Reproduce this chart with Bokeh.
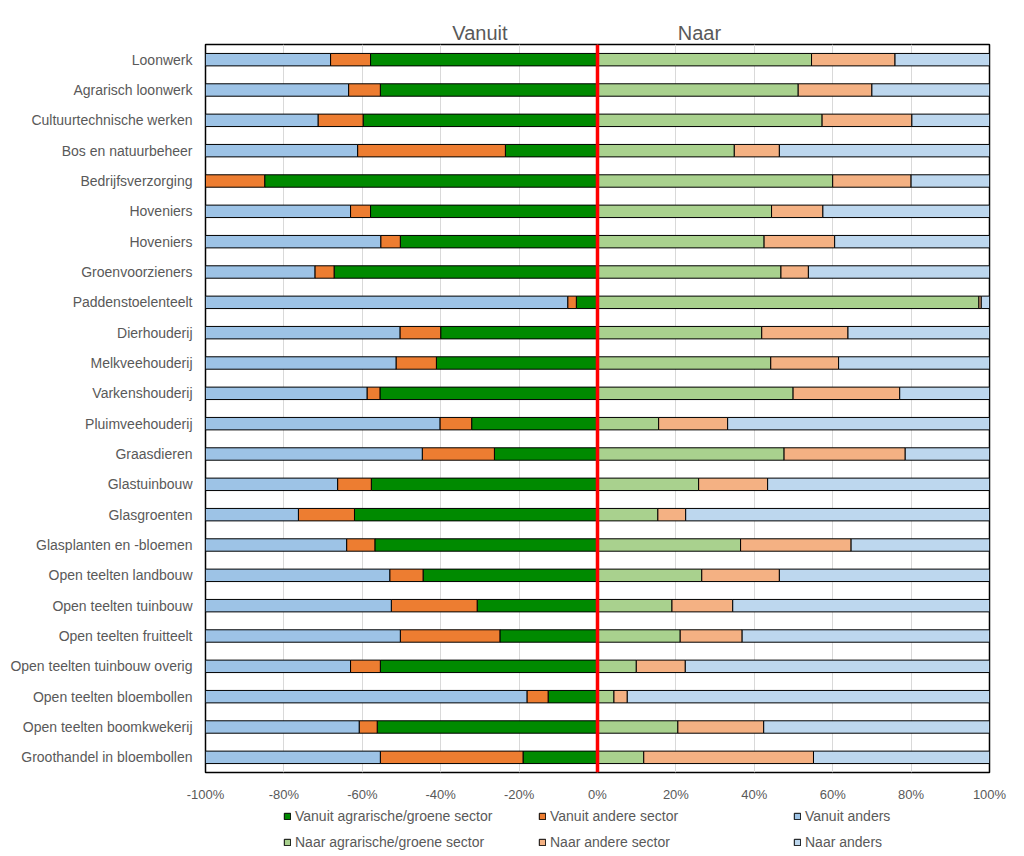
from bokeh.plotting import figure
from bokeh.models import Range1d, FixedTicker, Span, Legend, LegendItem, LinearAxis
from bokeh.layouts import column
from bokeh.embed import file_html
from bokeh.resources import INLINE
import numpy as np

categories = [
    "Loonwerk", "Agrarisch loonwerk", "Cultuurtechnische werken", "Bos en natuurbeheer",
    "Bedrijfsverzorging", "Hoveniers", "Hoveniers", "Groenvoorzieners",
    "Paddenstoelenteelt", "Dierhouderij", "Melkveehouderij", "Varkenshouderij",
    "Pluimveehouderij", "Graasdieren", "Glastuinbouw", "Glasgroenten",
    "Glasplanten en -bloemen", "Open teelten landbouw", "Open teelten tuinbouw",
    "Open teelten fruitteelt", "Open teelten tuinbouw overig", "Open teelten bloembollen",
    "Open teelten boomkwekerij", "Groothandel in bloembollen",
]

vanuit_agrarisch = [57.9, 55.4, 59.8, 23.5, 84.9, 57.9, 50.3, 67.2, 5.4, 40.0, 41.1, 55.5,
                    32.1, 26.3, 57.7, 62.0, 56.8, 44.5, 30.7, 24.9, 55.4, 12.6, 56.2, 19.0]
vanuit_andere = [10.2, 8.1, 11.5, 37.7, 15.1, 5.1, 5.0, 4.9, 2.2, 10.4, 10.3, 3.3,
                 8.1, 18.4, 8.6, 14.3, 7.2, 8.5, 21.9, 25.4, 7.6, 5.4, 4.6, 36.4]
vanuit_anders = [31.9, 36.5, 28.7, 38.8, 0.0, 37.0, 44.7, 27.9, 92.4, 49.6, 48.6, 41.2,
                 59.8, 55.3, 33.7, 23.7, 36.0, 47.0, 47.4, 49.7, 37.0, 82.0, 39.2, 44.6]

naar_agrarisch = [54.6, 51.2, 57.3, 34.9, 60.0, 44.4, 42.5, 46.8, 97.3, 41.9, 44.2, 49.9,
                  15.6, 47.6, 25.8, 15.4, 36.5, 26.6, 19.0, 21.1, 9.9, 4.2, 20.5, 11.8]
naar_andere = [21.3, 18.8, 22.9, 11.5, 20.0, 13.1, 18.0, 7.0, 0.6, 22.0, 17.3, 27.2,
               17.6, 30.9, 17.6, 7.1, 28.2, 19.8, 15.5, 15.8, 12.5, 3.4, 21.9, 43.3]
naar_anders = [24.1, 30.0, 19.8, 53.6, 20.0, 42.5, 39.5, 46.2, 2.1, 36.1, 38.5, 22.9,
               66.8, 21.5, 56.6, 77.5, 35.3, 53.6, 65.5, 63.1, 77.6, 92.4, 57.6, 44.9]

x_ticks = [-100, -80, -60, -40, -20, 0, 20, 40, 60, 80, 100]
x_tick_labels = ["-100%", "-80%", "-60%", "-40%", "-20%", "0%", "20%", "40%", "60%", "80%", "100%"]

half_titles = ["Vanuit", "Naar"]
half_title_pos = [-30, 26]

series_names = [
    "Vanuit agrarische/groene sector", "Vanuit andere sector", "Vanuit anders",
    "Naar agrarische/groene sector", "Naar andere sector", "Naar anders",
]
colors = ["#008A00", "#ED7D31", "#9DC3E6", "#A9D18E", "#F4B183", "#BDD7EE"]

FONT = "Liberation Sans"
GRAY = "#595959"

p = figure(width=1024, height=804, output_backend="svg", toolbar_location=None,
           x_range=Range1d(-100, 100), y_range=Range1d(len(categories) - 0.5, -0.5),
           min_border_left=205, min_border_right=35, min_border_top=44, min_border_bottom=30)

y = np.arange(len(categories))
va = np.array(vanuit_agrarisch); vo = np.array(vanuit_andere); vb = np.array(vanuit_anders)
na = np.array(naar_agrarisch); no = np.array(naar_andere); nb = np.array(naar_anders)

bar_h = 0.41
segments = [
    (-va, np.zeros_like(va)),
    (-(va + vo), -va),
    (-(va + vo + vb), -(va + vo)),
    (np.zeros_like(na), na),
    (na, na + no),
    (na + no, na + no + nb),
]
for (l, r), c in zip(segments, colors):
    p.hbar(y=y, left=l, right=r, height=bar_h, fill_color=c,
           line_color="black", line_width=1)

p.add_layout(Span(location=0, dimension="height", line_color="#FF0000", line_width=3.5))

# bottom axis
xax = p.below[0]
xax.ticker = FixedTicker(ticks=x_ticks)
xax.major_label_overrides = {t: s for t, s in zip(x_ticks, x_tick_labels)}
xax.axis_line_color = None
xax.major_tick_line_color = None
xax.minor_tick_line_color = None
xax.major_tick_out = 0
xax.major_tick_in = 0
xax.major_label_standoff = 14
xax.major_label_text_font = FONT
xax.major_label_text_font_size = "13px"
xax.major_label_text_color = GRAY

# left axis
yax = p.left[0]
yax.ticker = FixedTicker(ticks=list(range(len(categories))))
yax.major_label_overrides = {i: c for i, c in enumerate(categories)}
yax.axis_line_color = None
yax.major_tick_line_color = None
yax.minor_tick_line_color = None
yax.major_tick_out = 0
yax.major_tick_in = 0
yax.major_label_standoff = 13
yax.major_label_text_font = FONT
yax.major_label_text_font_size = "14px"
yax.major_label_text_color = GRAY

# top axis carrying the two half titles
top = LinearAxis(ticker=FixedTicker(ticks=half_title_pos),
                 major_label_overrides={t: s for t, s in zip(half_title_pos, half_titles)},
                 axis_line_color=None, major_tick_line_color=None, minor_tick_line_color=None,
                 major_tick_out=0, major_tick_in=0, major_label_standoff=1,
                 major_label_text_font=FONT, major_label_text_font_size="20px",
                 major_label_text_color=GRAY)
p.add_layout(top, "above")

p.xgrid.ticker = FixedTicker(ticks=x_ticks)
p.xgrid.grid_line_color = "#D9D9D9"
p.ygrid.grid_line_color = None
p.outline_line_color = "black"
p.outline_line_width = 1.5

# legend strip below the chart (its frame is aligned with the chart frame by the column layout)
LEG_H = 52
pl = figure(width=1024, height=LEG_H, output_backend="svg", toolbar_location=None,
            x_range=Range1d(0, 784), y_range=Range1d(0, LEG_H),
            x_axis_type=None, y_axis_type=None,
            min_border_left=205, min_border_right=35, min_border_top=0, min_border_bottom=0)
pl.outline_line_color = None
pl.xgrid.visible = False
pl.ygrid.visible = False

leg_x = [78, 333, 588]
leg_y = [32, 6]
for i, (name, c) in enumerate(zip(series_names, colors)):
    r = pl.hbar(y=[np.nan], left=[np.nan], right=[np.nan], height=1, fill_color=c,
                line_color="black", line_width=1)
    lg = Legend(items=[LegendItem(label=name, renderers=[r])],
                location=(leg_x[i % 3], leg_y[i // 3]),
                padding=0, margin=0, spacing=0, border_line_color=None,
                background_fill_alpha=0, glyph_width=8, glyph_height=8,
                label_standoff=4, label_height=16,
                label_text_font=FONT, label_text_font_size="14px", label_text_color=GRAY)
    pl.add_layout(lg, "center")

layout = column(p, pl, spacing=0)
open("out.html", "w").write(file_html(layout, INLINE))
